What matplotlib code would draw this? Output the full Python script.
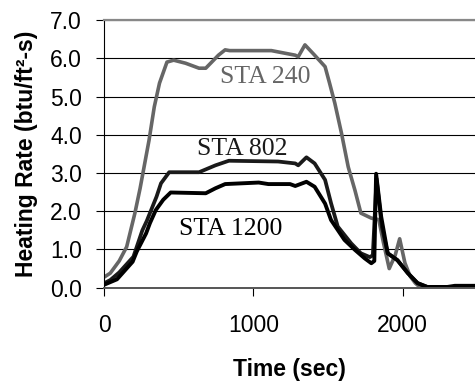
import numpy as np
import matplotlib.pyplot as plt

# STA 240 (grey)
sta240_t = [0, 40, 100, 150, 205, 240, 300, 335, 370, 420, 465, 545, 635, 680,
            765, 810, 840, 945, 1120, 1280, 1300, 1345, 1410, 1480, 1510, 1545,
            1590, 1635, 1680, 1720, 1790, 1840, 1870, 1910, 1950, 1980, 2015,
            2050, 2085, 2120, 2485]
sta240_v = [0.28, 0.38, 0.7, 1.07, 1.95, 2.6, 3.86, 4.73, 5.35, 5.9, 5.95, 5.87,
            5.74, 5.74, 6.08, 6.22, 6.2, 6.2, 6.2, 6.08, 6.04, 6.35, 6.08, 5.78,
            5.35, 4.83, 4.04, 3.16, 2.55, 1.95, 1.82, 1.78, 1.2, 0.5, 0.85, 1.28,
            0.65, 0.3, 0.12, 0.0, 0.0]

# STA 802
sta802_t = [0, 40, 100, 195, 255, 285, 350, 380, 435, 635, 745, 835, 1165, 1280,
            1300, 1355, 1410, 1480, 1520, 1565, 1655, 1720, 1780, 1800, 1825,
            1860, 1900, 1965, 2035, 2100, 2165, 2485]
sta802_v = [0.12, 0.2, 0.4, 0.81, 1.5, 1.75, 2.38, 2.73, 3.02, 3.02, 3.2, 3.32,
            3.3, 3.25, 3.2, 3.41, 3.25, 2.82, 2.21, 1.6, 1.16, 0.9, 0.8, 0.85,
            2.85, 1.6, 0.9, 0.72, 0.38, 0.12, 0.02, 0.0]

# STA 1200
sta1200_t = [0, 85, 190, 218, 280, 306, 345, 395, 445, 680, 745, 810, 1035, 1100,
             1245, 1280, 1355, 1410, 1480, 1520, 1610, 1680, 1745, 1790, 1810,
             1822, 1856, 1900, 1965, 2035, 2100, 2165, 2300, 2350, 2485]
sta1200_v = [0.08, 0.22, 0.68, 0.95, 1.42, 1.69, 2.03, 2.3, 2.49, 2.47, 2.6, 2.71,
             2.75, 2.71, 2.71, 2.66, 2.77, 2.64, 2.2, 1.77, 1.25, 0.99, 0.77, 0.64,
             0.7, 2.98, 1.86, 0.9, 0.72, 0.38, 0.12, 0.02, 0.02, 0.05, 0.05]

yticks = [0, 1, 2, 3, 4, 5, 6, 7]
ytick_labels = ["0.0", "1.0", "2.0", "3.0", "4.0", "5.0", "6.0", "7.0"]
xticks = [0, 1000, 2000]

sans = "Liberation Sans"
serif = "Liberation Serif"

fig = plt.figure(figsize=(4.75, 3.85), dpi=100)
ax = fig.add_axes([0.2196, 0.2527, 0.7804, 0.6953])

ax.plot(sta240_t, sta240_v, color="#666666", lw=2.6, solid_joinstyle="round")
ax.plot(sta802_t, sta802_v, color="#1a1a1a", lw=2.7, solid_joinstyle="round")
ax.plot(sta1200_t, sta1200_v, color="black", lw=2.8, solid_joinstyle="round")

ax.set_xlim(0, 2485)
ax.set_ylim(0, 7)
ax.set_axisbelow(True)
ax.grid(axis="y", color="black", lw=0.8)

ax.set_yticks(yticks)
ax.set_yticklabels(ytick_labels, fontfamily=sans, fontsize=16.5)
ax.set_xticks(xticks)
ax.set_xticklabels([str(v) for v in xticks], fontfamily=sans, fontsize=16.5)
ax.tick_params(axis="y", direction="out", length=6, width=0.8, pad=10)
ax.tick_params(axis="x", direction="out", length=6, width=0.8, pad=13)

ax.spines["right"].set_visible(False)
ax.spines["top"].set_color("#888888")
ax.spines["top"].set_linewidth(1.6)
ax.spines["bottom"].set_color("#555555")
ax.spines["bottom"].set_linewidth(1.4)
ax.spines["left"].set_color("black")
ax.spines["left"].set_linewidth(0.8)

ax.set_xlabel("Time (sec)", fontfamily=sans, fontweight="bold", fontsize=16.5,
              labelpad=15)
ax.set_ylabel("Heating Rate (btu/ft²-s)", fontfamily=sans, fontweight="bold",
              fontsize=16.5, labelpad=9)

ax.text(775, 5.36, "STA 240", fontfamily=serif, fontsize=18.5, color="#666666")
ax.text(621, 3.47, "STA 802", fontfamily=serif, fontsize=18.5, color="#1a1a1a")
ax.text(500, 1.38, "STA 1200", fontfamily=serif, fontsize=18.5, color="black")

fig.savefig("out.png", dpi=100)
